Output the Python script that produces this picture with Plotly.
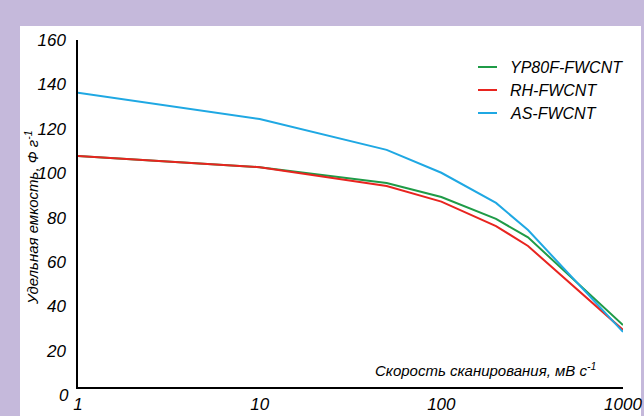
import plotly.graph_objects as go

# ---- data ----
scan_rate = [1, 10, 50, 100, 200, 300, 1000]
yp80f = [107.7, 102.7, 95.6, 89.3, 79.4, 71.1, 31.6]
rh = [107.7, 102.7, 94.2, 87.2, 76.2, 67.2, 29.4]
as_fw = [136.3, 124.4, 110.5, 100.2, 86.6, 74.4, 28.5]
series_names = ["YP80F-FWCNT", "RH-FWCNT", "AS-FWCNT"]
series_colors = ["#1f9b47", "#e8241f", "#1fa8e3"]
y_ticks = [20, 40, 60, 80, 100, 120, 140, 160]
x_ticks = [1, 10, 100, 1000]
x_title = "Скорость сканирования, мВ с<sup>-1</sup>"
y_title = "Удельная емкость, Ф г<sup>-1</sup>"

FONT = "Liberation Sans, Arial, sans-serif"

W, H = 644, 416
L, R, T, B = 78, 21, 40, 29
PW, PH = W - L - R, H - T - B


def px(x):
    return (x - L) / PW


def py(y):
    return (H - B - y) / PH


fig = go.Figure()
for name, vals, col in zip(series_names, [yp80f, rh, as_fw], series_colors):
    fig.add_trace(go.Scatter(x=scan_rate, y=vals, mode="lines", name=name,
                             line=dict(color=col, width=2), showlegend=False))

fig.update_layout(
    width=W, height=H,
    autosize=False,
    margin=dict(l=L, r=R, t=T, b=B, autoexpand=False),
    paper_bgcolor="#c5b9db",
    plot_bgcolor="white",
    font=dict(family=FONT, color="black"),
    xaxis=dict(type="log", range=[0, 3], tickvals=x_ticks,
               ticktext=[str(v) for v in x_ticks],
               showgrid=False, zeroline=False, showline=True,
               linecolor="black", linewidth=1.5, ticks="",
               ticklabelstandoff=1, automargin=False,
               tickfont=dict(size=17, style="italic", family=FONT)),
    yaxis=dict(range=[3.7, 160], tickvals=y_ticks,
               showgrid=False, zeroline=False, showline=True,
               linecolor="black", linewidth=1.5, ticks="",
               ticklabelstandoff=7, automargin=False,
               tickfont=dict(size=17, style="italic", family=FONT)),
)

# white card inside lavender frame
fig.add_shape(type="rect", xref="paper", yref="paper",
              x0=px(20), x1=px(641), y0=py(420), y1=py(26),
              fillcolor="white", line_width=0, layer="below")

# "0" tick label at the origin (below the x axis line, as in the source)
fig.add_annotation(text="0", xref="paper", yref="paper", x=0, y=py(395),
                   xanchor="right", yanchor="middle", xshift=-7, showarrow=False,
                   font=dict(size=17, style="italic", family=FONT))

# axis titles
fig.add_annotation(text=x_title, xref="paper", yref="paper",
                   x=px(485), y=py(369), xanchor="center", yanchor="middle",
                   showarrow=False, font=dict(size=15, style="italic", family=FONT))
fig.add_annotation(text=y_title, xref="paper", yref="paper",
                   x=px(31), y=py(218), xanchor="center", yanchor="middle",
                   textangle=-90, showarrow=False,
                   font=dict(size=15, style="italic", family=FONT))

# legend
rows = [67, 90, 113]
for name, col, yy in zip(series_names, series_colors, rows):
    fig.add_shape(type="line", xref="paper", yref="paper",
                  x0=px(478), x1=px(497), y0=py(yy), y1=py(yy),
                  line=dict(color=col, width=2))
    fig.add_annotation(text=name, xref="paper", yref="paper",
                       x=px(508), y=py(yy), xanchor="left", yanchor="middle",
                       showarrow=False, font=dict(size=16, style="italic", family=FONT))

fig.write_html("out.html", config={"displayModeBar": False},
               post_script="document.body.style.margin='0px';")
